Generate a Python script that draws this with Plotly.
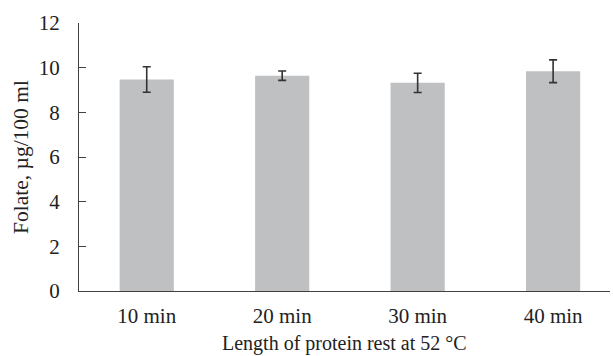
import plotly.graph_objects as go

categories = ["10 min", "20 min", "30 min", "40 min"]
folate = [9.47, 9.64, 9.32, 9.84]
errors = [0.57, 0.21, 0.43, 0.51]
y_ticks = [0, 2, 4, 6, 8, 10, 12]
x_title = "Length of protein rest at 52 °C"
y_title = "Folate, µg/100 ml"

fig = go.Figure(go.Bar(
    x=categories, y=folate, width=0.4,
    marker=dict(color="#BFC0C2", line=dict(width=0)),
    error_y=dict(type="data", array=errors, visible=True, color="#333333",
                 thickness=1.6, width=4),
))

font_family = "Liberation Serif, Times New Roman, serif"
fig.update_layout(
    width=613, height=356,
    margin=dict(l=79, r=3, t=23, b=65),
    plot_bgcolor="white", paper_bgcolor="white",
    showlegend=False,
    font=dict(family=font_family, color="#222222"),
    xaxis=dict(
        range=[-0.5, 3.42], automargin=False,
        showline=True, linecolor="#404040", linewidth=1.3,
        ticks="", tickfont=dict(size=21, color="#222222"),
        ticklabelstandoff=6,
    ),
    yaxis=dict(
        range=[0, 12], tickvals=y_ticks, automargin=False,
        showline=True, linecolor="#404040", linewidth=1.3,
        ticks="inside", ticklen=7, tickcolor="#404040", tickwidth=1.3,
        showgrid=False, zeroline=False,
        tickfont=dict(size=21, color="#222222"),
        ticklabelstandoff=14,
    ),
    annotations=[
        dict(text=x_title, xref="paper", yref="paper", x=0.5, y=0,
             xanchor="center", yanchor="middle", yshift=-52, showarrow=False,
             font=dict(size=20, color="#222222", family=font_family)),
        dict(text=y_title, xref="paper", yref="paper", x=0, y=0.5,
             xanchor="center", yanchor="middle", xshift=-58, textangle=-90,
             showarrow=False,
             font=dict(size=21.5, color="#222222", family=font_family)),
    ],
)

fig.write_html("out.html", config={"displayModeBar": False},
               post_script="document.body.style.margin='0px';document.body.style.overflow='hidden';")
